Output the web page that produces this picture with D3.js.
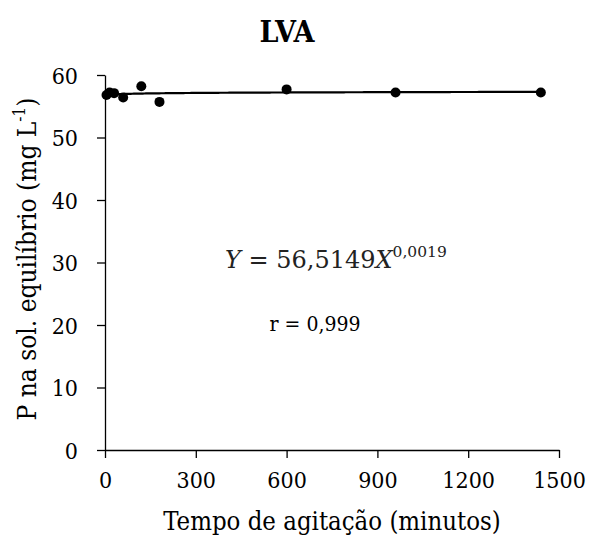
<!DOCTYPE html>
<html>
<head>
<meta charset="utf-8">
<script src="https://cdn.jsdelivr.net/npm/d3@7"></script>
<style>
  body { margin: 0; background: #fff; }
</style>
</head>
<body>
<div id="chart"></div>
<script>
// tempo de agitação (min) e P na solução de equilíbrio (mg/L)
var tempo = [5, 15, 30, 60, 120, 180, 600, 960, 1440];
var pEquil = [56.8, 57.2, 57.1, 56.4, 58.2, 55.7, 57.7, 57.2, 57.2];
var xTicks = [0, 300, 600, 900, 1200, 1500];
var yTicks = [0, 10, 20, 30, 40, 50, 60];
// Y = a * X^b
var coefA = 56.5149, coefB = 0.0019;

var serif = '"DejaVu Serif Condensed", "DejaVu Serif", serif';
var mathFont = '"DejaVu Serif", serif';

var width = 591, height = 542;
var margin = {top: 75, right: 32, bottom: 92, left: 105};

var svg = d3.select("#chart").append("svg")
	.attr("width", width)
	.attr("height", height);

function serifText(sel, size) {
	return sel.style("font-family", serif)
		.style("font-stretch", "condensed")
		.style("font-size", size + "px")
		.attr("fill", "#000");
}

var x = d3.scaleLinear().domain([0, 1500]).range([margin.left, width - margin.right]);
var y = d3.scaleLinear().domain([0, 60]).range([height - margin.bottom, margin.top]);

var xAxis = svg.append("g")
	.attr("transform", "translate(0," + y(0) + ")")
	.call(d3.axisBottom(x).tickValues(xTicks).tickFormat(d3.format("d"))
		.tickSize(8).tickSizeOuter(0).tickPadding(14));

var yAxis = svg.append("g")
	.attr("transform", "translate(" + x(0) + ",0)")
	.call(d3.axisLeft(y).tickValues(yTicks).tickSize(8).tickSizeOuter(0).tickPadding(19));

[xAxis, yAxis].forEach(function (g) {
	g.selectAll("path, line").attr("stroke", "#000").attr("stroke-width", 1.3);
	serifText(g.selectAll("text"), 23);
});
yAxis.selectAll("text").attr("dy", "0.35em");

// curva ajustada
var fit = d3.range(tempo[0], tempo[tempo.length - 1] + 1, 5).map(function (t) {
	return [t, coefA * Math.pow(t, coefB)];
});
svg.append("path")
	.datum(fit)
	.attr("fill", "none")
	.attr("stroke", "#000")
	.attr("stroke-width", 2.2)
	.attr("d", d3.line().x(function (d) { return x(d[0]); }).y(function (d) { return y(d[1]); }));

svg.selectAll("circle.pt")
	.data(tempo)
	.enter().append("circle")
		.attr("class", "pt")
		.attr("cx", function (d) { return x(d); })
		.attr("cy", function (d, i) { return y(pEquil[i]); })
		.attr("r", 5)
		.attr("fill", "#000");

// título
serifText(svg.append("text"), 30)
	.attr("x", 287).attr("y", 42)
	.attr("text-anchor", "middle")
	.style("font-weight", "bold")
	.text("LVA");

// rótulos dos eixos
serifText(svg.append("text"), 25.5)
	.attr("x", 332).attr("y", 530)
	.attr("text-anchor", "middle")
	.text("Tempo de agitação (minutos)");

var yLab = serifText(svg.append("text"), 26)
	.attr("transform", "translate(36,259) rotate(-90)")
	.attr("text-anchor", "middle");
yLab.append("tspan").text("P na sol. equilíbrio (mg L");
yLab.append("tspan").style("font-size", "17px").attr("dy", -11).text("-1");
yLab.append("tspan").attr("dy", 11).text(")");

// equação e coeficiente
var eq = svg.append("text")
	.attr("x", 225).attr("y", 268)
	.style("font-family", mathFont)
	.style("font-size", "24px")
	.attr("fill", "#222");
eq.append("tspan").style("font-style", "italic").text("Y");
eq.append("tspan").text(" = 56,5149");
eq.append("tspan").style("font-style", "italic").text("X");
eq.append("tspan").style("font-size", "15.5px").attr("dy", -11).text("0,0019");

serifText(svg.append("text"), 21)
	.attr("x", 315).attr("y", 331)
	.attr("text-anchor", "middle")
	.text("r = 0,999");
</script>
</body>
</html>
